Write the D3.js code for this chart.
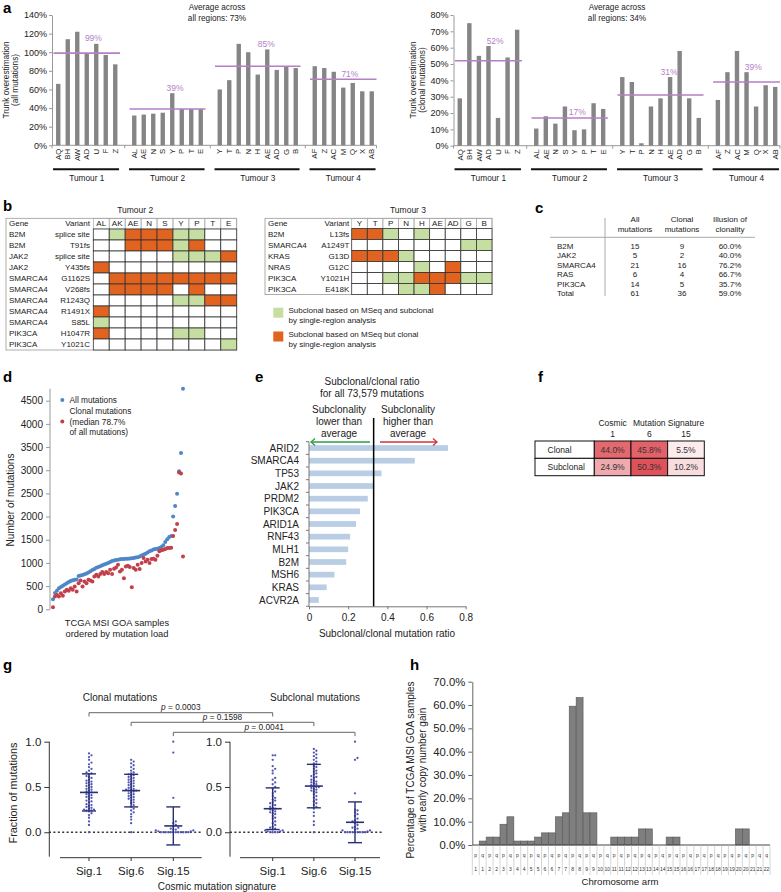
<!DOCTYPE html>
<html><head><meta charset="utf-8">
<script src="https://cdn.jsdelivr.net/npm/d3@7/dist/d3.min.js"></script>
<style>html,body{margin:0;padding:0;background:#fff}svg{display:block}</style>
</head><body>
<svg id="fig" width="781" height="892" xmlns="http://www.w3.org/2000/svg"></svg>
<script>
// ================= DATA =================
// panel a
const tumours = ["Tumour 1","Tumour 2","Tumour 3","Tumour 4"];
const regionsA = [
  ["AQ","BH","AW","AD","U","F","Z"],
  ["AL","AE","N","S","Y","P","T","E"],
  ["Y","T","P","N","H","AE","AD","G","B"],
  ["AF","Z","AC","M","Q","X","AB"]
];
const trunkAll = [[66,114,122,99,109,97,87],[32,33,34,35,56,39,39,39],[60,70,109,100,76,103,81,85,83],[85,83,79,62,67,58,58]];
const trunkAllMean = [99,39,85,71];
const trunkClonal = [[29,75,55,61,17,54,71],[10.5,18,13.5,24,9.5,10,26,22.5],[42,39,1.5,24,29,42,58,29,17],[28,45,58,45,24,37,36]];
const trunkClonalMean = [52,17,31,39];
const avgAllText = "73%";
const avgClonalText = "34%";

// panel b
const t2Regions = ["AL","AK","AE","N","S","Y","P","T","E"];
const t2Genes = ["B2M","B2M","JAK2","JAK2","SMARCA4","SMARCA4","SMARCA4","SMARCA4","SMARCA4","PIK3CA","PIK3CA"];
const t2Variants = ["splice site","T91fs","splice site","Y435fs","G1162S","V268fs","R1243Q","R1491X","S85L","H1047R","Y1021C"];
const t2Status = ["-GOOOGG--","--OOOGO--","-----GGGO","O--------","-OOOOOOOO","-OOOO-O--","-----GGOO","O--------","G--------","O----GG--","--------G"];
const t3Regions = ["Y","T","P","N","H","AE","AD","G","B"];
const t3Genes = ["B2M","SMARCA4","KRAS","NRAS","PIK3CA","PIK3CA"];
const t3Variants = ["L13fs","A1249T","G13D","G12C","Y1021H","E418K"];
const t3Status = ["OOG-G----","-------GG","OOOG-----","----G-O--","--GGOOOGG","---GGO---"];
const legendB = [["Subclonal based on MSeq and subclonal","by single-region analysis"],["Subclonal based on MSeq but clonal","by single-region analysis"]];

// panel c
const cGenes = ["B2M","JAK2","SMARCA4","RAS","PIK3CA","Total"];
const cAll = [15,5,21,6,14,61];
const cClonal = [9,2,16,4,5,36];
const cIllusion = ["60.0%","40.0%","76.2%","66.7%","35.7%","59.0%"];

// panel d
const dAll = [217,350,400,455,480,510,535,560,590,610,625,635,645,720,730,740,755,770,795,820,850,870,895,910,930,950,965,980,1000,1020,1040,1055,1065,1070,1078,1083,1086,1090,1093,1098,1103,1108,1115,1122,1140,1160,1180,1200,1228,1250,1270,1290,1300,1308,1320,1345,1380,1450,1510,1560,1580,2000,2230,2490,2980,3370,4760];
const dClonal = [43,275,310,275,347,290,383,420,400,455,420,490,383,563,621,490,600,563,636,621,600,708,744,708,759,802,759,802,780,853,759,874,903,961,816,853,672,925,940,910,477,889,853,961,867,997,1105,1033,1069,997,1084,1091,1069,1156,1250,1272,1286,1300,1322,1322,1330,1580,1710,1840,2950,2930,1140];

// panel e
const eGenes = ["ARID2","SMARCA4","TP53","JAK2","PRDM2","PIK3CA","ARID1A","RNF43","MLH1","B2M","MSH6","KRAS","ACVR2A"];
const eRatio = [0.71,0.54,0.37,0.33,0.30,0.26,0.24,0.21,0.20,0.19,0.13,0.09,0.05];
const eAverage = 0.33;

// panel f
const fRows = ["Clonal","Subclonal"];
const fHead1 = ["Cosmic","Mutation","Signature"];
const fHead2 = ["1","6","15"];
const fClonal = [44.0,45.8,5.5];
const fSubclonal = [24.9,50.3,10.2];

// panel g
const gSigs = ["Sig.1","Sig.6","Sig.15"];
const clonalSig1 = [0.87,0.85,0.83,0.80,0.77,0.75,0.72,0.70,0.68,0.66,0.65,0.64,0.62,0.61,0.60,0.58,0.57,0.56,0.55,0.54,0.53,0.52,0.51,0.50,0.49,0.48,0.47,0.46,0.45,0.44,0.43,0.42,0.41,0.40,0.39,0.38,0.37,0.35,0.34,0.33,0.31,0.30,0.29,0.28,0.27,0.26,0.25,0.25,0.24,0.24,0.23,0.21,0.19,0.16,0.12,0.08,0.0];
const clonalSig6 = [0.80,0.78,0.76,0.74,0.72,0.70,0.68,0.66,0.65,0.64,0.63,0.62,0.61,0.60,0.59,0.58,0.57,0.56,0.55,0.54,0.53,0.52,0.51,0.50,0.49,0.48,0.47,0.47,0.46,0.46,0.45,0.44,0.43,0.42,0.41,0.40,0.39,0.38,0.37,0.36,0.35,0.33,0.32,0.30,0.28,0.26,0.24,0.22,0.20,0.17,0.14,0.10,0.0];
const clonalSig15 = [1.0,0.88,0.38,0.12,0.10,0.08,0.06,0.05,0.04,0.03,0.03,0.02,0.02,0.01,0.01,0,0,0,0,0,0,0,0,0,0,0,0];
const subSig1 = [0.85,0.85,0.80,0.73,0.70,0.68,0.65,0.60,0.58,0.55,0.53,0.50,0.48,0.45,0.43,0.40,0.38,0.36,0.35,0.33,0.32,0.30,0.30,0.28,0.27,0.26,0.25,0.24,0.23,0.22,0.21,0.20,0.18,0.16,0.15,0.12,0.10,0.08,0.06,0.05,0.04,0.03,0.02,0.02,0.01,0.01,0,0,0,0];
const subSig6 = [0.92,0.90,0.88,0.86,0.84,0.82,0.80,0.78,0.76,0.75,0.73,0.72,0.70,0.68,0.67,0.65,0.64,0.62,0.61,0.60,0.58,0.57,0.56,0.55,0.54,0.53,0.52,0.51,0.50,0.50,0.49,0.48,0.47,0.46,0.45,0.44,0.42,0.40,0.38,0.36,0.34,0.32,0.30,0.28,0.26,0.22,0.18,0.12,0.08,0.0];
const subSig15 = [1.0,0.82,0.80,0.43,0.25,0.24,0.22,0.20,0.18,0.15,0.13,0.12,0.11,0.10,0.08,0.06,0.05,0.04,0.03,0.02,0.02,0.01,0,0,0,0,0,0,0,0,0];
const clonalMean = [0.44,0.46,0.07];
const clonalSD = [0.205,0.18,0.21];
const subMean = [0.26,0.51,0.11];
const subSD = [0.23,0.24,0.225];
const pValues = ["0.0003","0.1598","0.0041"];

// panel h
const hArm = ["p","q","p","q","p","q","p","q","p","q","p","q","p","q","p","q","p","q","p","q","p","q","p","q","p","q","p","q","p","q","p","q","p","q","p","q","p","q","p","q","p","q","q"];
const hChrom = ["1","1","2","2","3","3","4","4","5","5","6","6","7","7","8","8","9","9","10","10","11","11","12","12","13","13","14","14","15","15","16","16","17","17","18","18","19","19","20","20","21","21","22"];
const hGain = [0,1.7,3.4,3.4,8.9,12.1,1.7,1.7,1.7,3.4,5.2,5.2,12.1,13.8,59.5,63.2,13.8,13.8,0,0,3.4,3.4,3.4,3.4,6.9,6.9,0,0,3.4,3.4,0,0,0,0,0,0,0,0,6.9,6.9,0,0,0];

// ================= DRAWING =================
const F = '"Liberation Sans", Arial, Helvetica, sans-serif';
const svg = d3.select("#fig").attr("font-family", F);
svg.append("rect").attr("width",781).attr("height",892).attr("fill","#fff");

function text(g, x, y, s, size, anchor, fill, extra) {
  const t = g.append("text").attr("x", x).attr("y", y).attr("font-size", size)
    .attr("text-anchor", anchor || "start").attr("fill", fill || "#222").text(s);
  if (extra) Object.entries(extra).forEach(([k, v]) => t.attr(k, v));
  return t;
}
function vtext(g, x, y, s, size) {
  return g.append("text").attr("transform", `translate(${x},${y}) rotate(-90)`)
    .attr("text-anchor", "middle").attr("font-size", size).attr("fill", "#222").text(s);
}
function styleAxis(sel, size, col) {
  sel.attr("font-family", F).attr("font-size", size);
  sel.selectAll("text").attr("fill", "#222");
  sel.selectAll("line,path").attr("stroke", col);
}
const letters = [["a",3,13],["b",3,211],["c",535,213],["d",3,382],["e",255,382],["f",538,382],["g",3,670],["h",410,670]];
letters.forEach(([l, x, y]) => text(svg, x, y, l, 15, "start", "#000", {"font-weight": "bold"}));

// ---------- panel a ----------
function drawTrunk(o) {
  const g = svg.append("g");
  const slots = [];
  tumours.forEach((t, gi) => {
    regionsA[gi].forEach((r, ri) => slots.push(gi + "_" + ri));
    if (gi < tumours.length - 1) slots.push("gap" + gi);
  });
  const x = d3.scaleBand().domain(slots).range(o.xr).paddingInner(0.54).paddingOuter(0.27);
  const y = d3.scaleLinear().domain([0, o.max]).range(o.yr);
  const cx = k => x(k) + x.bandwidth() / 2;
  const st = x.step();
  const ax0 = o.xr[0] - 1.5;
  const yA = g.append("g").attr("transform", `translate(${ax0},0)`)
    .call(d3.axisLeft(y).tickValues(d3.range(0, o.max + 0.01, o.step)).tickFormat(d => d + "%").tickSize(3).tickSizeOuter(0).tickPadding(2));
  styleAxis(yA, 9, "#999");
  g.append("line").attr("x1", ax0).attr("x2", o.xr[1]).attr("y1", y(0)).attr("y2", y(0)).attr("stroke", "#999");
  const tickXs = [ax0, ...tumours.slice(0, -1).map((t, gi) => cx("gap" + gi)), o.xr[1]];
  g.selectAll(null).data(tickXs).enter().append("line")
    .attr("x1", d => d).attr("x2", d => d).attr("y1", y(0)).attr("y2", y(0) + 3).attr("stroke", "#999");
  tumours.forEach((t, gi) => {
    const vals = o.values[gi];
    const keys = vals.map((v, i) => gi + "_" + i);
    g.selectAll(null).data(vals).enter().append("rect")
      .attr("x", (d, i) => x(keys[i])).attr("width", x.bandwidth())
      .attr("y", d => y(d)).attr("height", d => y(0) - y(d)).attr("fill", "#858585");
    regionsA[gi].forEach((r, i) => {
      g.append("text").attr("transform", `translate(${cx(keys[i])},${y(0) + 3.5}) rotate(-90)`)
        .attr("dy", "0.35em").attr("text-anchor", "end").attr("font-size", 7.8).attr("fill", "#222").text(r);
    });
    const first = cx(keys[0]), last = cx(keys[keys.length - 1]);
    g.append("line").attr("x1", first - st * 0.55).attr("x2", last + st * 0.4)
      .attr("y1", o.underY).attr("y2", o.underY).attr("stroke", "#111").attr("stroke-width", 2);
    text(g, (first + last) / 2, o.underY + 12, t, 8.3, "middle");
    const m = o.means[gi];
    const lx0 = first - st / 2, lx1 = last + st / 2;
    g.append("line").attr("x1", lx0).attr("x2", lx1).attr("y1", y(m)).attr("y2", y(m))
      .attr("stroke", "#b57fc6").attr("stroke-width", 1.6);
    const lx = lx0 + (lx1 - lx0) * 0.6;
    let top = m;
    vals.forEach((v, i) => { if (Math.abs(cx(keys[i]) - lx) < 8 + x.bandwidth() / 2 && v > top) top = v; });
    text(g, lx, y(top) - 2.5, m + "%", 8.5, "middle", "#b57fc6");
  });
  text(g, o.titleX, 10, "Average across", 8.2, "middle");
  text(g, o.titleX, 21, "all regions: " + o.avg, 8.2, "middle");
  g.append("text").attr("transform", `translate(${o.ylx[0]},${o.ylc}) rotate(-90)`).attr("text-anchor", "middle").attr("font-size", 8.3).attr("fill", "#222").text("Trunk overestimation");
  g.append("text").attr("transform", `translate(${o.ylx[1]},${o.ylc}) rotate(-90)`).attr("text-anchor", "middle").attr("font-size", 8.3).attr("fill", "#222").text(o.ysub);
}
drawTrunk({xr: [53.5, 376.5], yr: [145.3, 15], max: 140, step: 20, values: trunkAll, means: trunkAllMean, underY: 169.3, titleX: 217, avg: avgAllText, ylx: [8.5, 17.5], ylc: 80, ysub: "(all mutations)"});
drawTrunk({xr: [455, 780], yr: [145.7, 15], max: 80, step: 10, values: trunkClonal, means: trunkClonalMean, underY: 169.3, titleX: 617, avg: avgClonalText, ylx: [415.5, 424.5], ylc: 80, ysub: "(clonal mutations)"});

// ---------- panel b ----------
const cellCol = {G: "#c6dea2", O: "#e2631f", "-": "#ffffff"};
function drawMut(o) {
  const g = svg.append("g");
  const x = d3.scaleBand().domain(o.regions).range([o.gx0, o.gx1]);
  const y = d3.scaleBand().domain(d3.range(o.genes.length)).range([o.hy1, o.bottom]);
  text(g, o.x0 + (o.gx1 - o.x0) * o.tf, 213, o.title, 8.5, "middle");
  g.append("rect").attr("x", o.x0).attr("y", o.top).attr("width", o.gx1 - o.x0).attr("height", o.bottom - o.top)
    .attr("fill", "none").attr("stroke", "#999").attr("stroke-width", 0.8);
  o.regions.forEach(r => {
    g.append("rect").attr("x", x(r)).attr("y", o.top).attr("width", x.bandwidth()).attr("height", o.hy1 - o.top)
      .attr("fill", "none").attr("stroke", "#aaa").attr("stroke-width", 0.7);
    text(g, x(r) + x.bandwidth() / 2, o.hy1 - 2.6, r, 8, "middle");
  });
  text(g, o.x0 + 3, o.hy1 - 2.6, "Gene", 8);
  text(g, o.vx, o.hy1 - 2.6, "Variant", 8, "end");
  o.genes.forEach((gn, i) => {
    text(g, o.x0 + 3, y(i) + 8.3, gn, 8);
    text(g, o.vx, y(i) + 8.3, o.variants[i], 8, "end");
    o.regions.forEach((r, j) => {
      g.append("rect").attr("x", x(r)).attr("y", y(i)).attr("width", x.bandwidth()).attr("height", y.bandwidth())
        .attr("fill", cellCol[o.status[i][j]]).attr("stroke", "#333").attr("stroke-width", 0.8);
    });
  });
}
drawMut({x0: 6, vx: 90, gx0: 93.3, gx1: 236.7, top: 218.3, hy1: 229, bottom: 350, regions: t2Regions, genes: t2Genes, variants: t2Variants, status: t2Status, title: "Tumour 2", tf: 0.56});
drawMut({x0: 265, vx: 349.3, gx0: 351.7, gx1: 492, top: 218.3, hy1: 228.6, bottom: 294.6, regions: t3Regions, genes: t3Genes, variants: t3Variants, status: t3Status, title: "Tumour 3", tf: 0.63});
{
  const g = svg.append("g");
  const ly = d3.scalePoint().domain([0, 1]).range([307.7, 331.5]);
  legendB.forEach((lines, i) => {
    g.append("rect").attr("x", 273.3).attr("y", ly(i)).attr("width", 10).attr("height", 10).attr("fill", i === 0 ? cellCol.G : cellCol.O);
    text(g, 288.5, ly(i) + 5.3, lines[0], 8);
    text(g, 288.5, ly(i) + 15.3, lines[1], 8);
  });
}

// ---------- panel c ----------
{
  const g = svg.append("g");
  const cols = [635, 682, 730];
  const heads = [["All", "mutations"], ["Clonal", "mutations"], ["Illusion of", "clonality"]];
  heads.forEach((h, i) => { text(g, cols[i], 222, h[0], 8, "middle"); text(g, cols[i], 231.5, h[1], 8, "middle"); });
  g.append("line").attr("x1", 550).attr("x2", 755).attr("y1", 237.3).attr("y2", 237.3).attr("stroke", "#aaa");
  g.append("line").attr("x1", 605).attr("x2", 605).attr("y1", 218).attr("y2", 296).attr("stroke", "#aaa");
  const ry = d3.scalePoint().domain(d3.range(cGenes.length)).range([248.7, 296.2]);
  cGenes.forEach((gn, i) => {
    text(g, 557, ry(i), gn, 8);
    text(g, cols[0], ry(i), cAll[i], 8, "middle");
    text(g, cols[1], ry(i), cClonal[i], 8, "middle");
    text(g, cols[2], ry(i), cIllusion[i], 8, "middle");
  });
}

// ---------- panel d ----------
{
  const g = svg.append("g");
  const x = d3.scaleLinear().domain([0, dAll.length - 1]).range([53, 183]);
  const y = d3.scaleLinear().domain([0, 4500]).range([609.3, 400.7]);
  const ax = g.append("g").attr("transform", "translate(50,0)")
    .call(d3.axisLeft(y).tickValues(d3.range(0, 4501, 500)).tickFormat(d3.format("d")).tickSize(4).tickPadding(3));
  ax.select(".domain").remove();
  styleAxis(ax, 10, "#999");
  g.append("line").attr("x1", 50).attr("x2", 50).attr("y1", y(0)).attr("y2", y(d3.max(dAll))).attr("stroke", "#999");
  g.selectAll(null).data(dAll).enter().append("circle").attr("cx", (d, i) => x(i)).attr("cy", d => y(d)).attr("r", 2).attr("fill", "#4e86c6");
  g.selectAll(null).data(dClonal).enter().append("circle").attr("cx", (d, i) => x(i)).attr("cy", d => y(d)).attr("r", 2).attr("fill", "#c2404a");
  g.append("circle").attr("cx", 62.3).attr("cy", 400).attr("r", 2).attr("fill", "#4e86c6");
  text(g, 69.5, 403, "All mutations", 8.3);
  text(g, 69.5, 414, "Clonal mutations", 8.3);
  g.append("circle").attr("cx", 62.3).attr("cy", 421.5).attr("r", 2).attr("fill", "#c2404a");
  text(g, 69.5, 424.5, "(median 78.7%", 8.3);
  text(g, 69.5, 435, "of all mutations)", 8.3);
  vtext(g, 13.5, 500, "Number of mutations", 10);
  text(g, 117, 626, "TCGA MSI GOA samples", 9.3, "middle");
  text(g, 117, 637, "ordered by mutation load", 9.3, "middle");
}

// ---------- panel e ----------
{
  const g = svg.append("g");
  const x = d3.scaleLinear().domain([0, 0.8]).range([309, 465.7]);
  const y = d3.scaleBand().domain(eGenes).range([441.7, 606.3]).paddingInner(0.55).paddingOuter(0.275);
  g.selectAll(null).data(eRatio).enter().append("rect")
    .attr("x", x(0)).attr("y", (d, i) => y(eGenes[i])).attr("height", y.bandwidth())
    .attr("width", d => x(d) - x(0)).attr("fill", "#b9cde4");
  eGenes.forEach(gn => text(g, 299, y(gn) + y.bandwidth() / 2 + 3.6, gn, 10, "end"));
  const bounds = d3.range(eGenes.length + 1).map(i => y.range()[0] + i * y.step());
  g.append("line").attr("x1", x(0)).attr("x2", x(0)).attr("y1", bounds[0]).attr("y2", bounds[bounds.length - 1]).attr("stroke", "#777");
  g.selectAll(null).data(bounds).enter().append("line").attr("x1", x(0) - 3).attr("x2", x(0)).attr("y1", d => d).attr("y2", d => d).attr("stroke", "#777");
  const ax = g.append("g").attr("transform", `translate(0,${bounds[bounds.length - 1]})`)
    .call(d3.axisBottom(x).tickValues([0, 0.2, 0.4, 0.6, 0.8]).tickFormat(d => d === 0 ? "0" : d3.format(".1f")(d)).tickSize(3).tickSizeOuter(0).tickPadding(5));
  styleAxis(ax, 10, "#777");
  g.append("line").attr("x1", x(eAverage)).attr("x2", x(eAverage)).attr("y1", 418).attr("y2", bounds[bounds.length - 1]).attr("stroke", "#000").attr("stroke-width", 1.5);
  text(g, 372, 384.5, "Subclonal/clonal ratio", 10, "middle");
  text(g, 372, 396.5, "for all 73,579 mutations", 10, "middle");
  ["Subclonality", "lower than", "average"].forEach((s, i) => text(g, 339, 412.5 + i * 12, s, 10, "middle"));
  ["Subclonality", "higher than", "average"].forEach((s, i) => text(g, 408, 412.5 + i * 12, s, 10, "middle"));
  const ay = 442;
  g.append("line").attr("x1", 370).attr("x2", 311).attr("y1", ay).attr("y2", ay).attr("stroke", "#2f9b45").attr("stroke-width", 1.3);
  g.append("path").attr("d", `M315,${ay - 3.5} L311,${ay} L315,${ay + 3.5}`).attr("fill", "none").attr("stroke", "#2f9b45").attr("stroke-width", 1.3);
  g.append("line").attr("x1", 380).attr("x2", 437).attr("y1", ay).attr("y2", ay).attr("stroke", "#d0343a").attr("stroke-width", 1.3);
  g.append("path").attr("d", `M433,${ay - 3.5} L437,${ay} L433,${ay + 3.5}`).attr("fill", "none").attr("stroke", "#d0343a").attr("stroke-width", 1.3);
  text(g, 387, 637, "Subclonal/clonal mutation ratio", 10, "middle");
}

// ---------- panel f ----------
{
  const g = svg.append("g");
  const x = d3.scaleBand().domain([0, 1, 2]).range([594.3, 704.3]);
  const y = d3.scaleBand().domain(fRows).range([441, 475.7]);
  const col = d3.scaleLinear().domain([0, 50]).range(["#ffffff", "#e0535b"]);
  fHead1.forEach((h, i) => text(g, x(i) + x.bandwidth() / 2, 425.7, h, 8.5, "middle"));
  fHead2.forEach((h, i) => text(g, x(i) + x.bandwidth() / 2, 437.3, h, 8.5, "middle"));
  [fClonal, fSubclonal].forEach((vals, r) => {
    const rn = fRows[r];
    g.append("rect").attr("x", 535).attr("y", y(rn)).attr("width", x(0) - 535).attr("height", y.bandwidth()).attr("fill", "#fff").attr("stroke", "#111");
    text(g, 547.5, y(rn) + y.bandwidth() / 2 + 3, rn, 8.5);
    vals.forEach((v, i) => {
      g.append("rect").attr("x", x(i)).attr("y", y(rn)).attr("width", x.bandwidth()).attr("height", y.bandwidth()).attr("fill", col(v)).attr("stroke", "#111");
      text(g, x(i) + x.bandwidth() / 2, y(rn) + y.bandwidth() / 2 + 3, d3.format(".1f")(v) + "%", 8.5, "middle", "#333");
    });
  });
}

// ---------- panel g ----------
{
  const g = svg.append("g");
  const y = d3.scaleLinear().domain([-0.27, 1.0]).range([856.7, 741.7]);
  const panels = [
    {ax: 49.3, xr: [89, 173.3], xl: [60, 201.7], dot: [49, 201], title: "Clonal mutations", tx: 120, data: [clonalSig1, clonalSig6, clonalSig15], mean: clonalMean, sd: clonalSD},
    {ax: 230, xr: [272.7, 355], xl: [240, 380], dot: [230, 381.7], title: "Subclonal mutations", tx: 315, data: [subSig1, subSig6, subSig15], mean: subMean, sd: subSD}
  ];
  const navy = "#283072", dotc = "#5356b3";
  const xs = [];
  panels.forEach(p => {
    const x = d3.scalePoint().domain(gSigs).range(p.xr);
    xs.push(x);
    const ya = g.append("g").attr("transform", `translate(${p.ax},0)`)
      .call(d3.axisLeft(y).tickValues([0, 0.5, 1.0]).tickFormat(d3.format(".1f")).tickSize(5).tickPadding(3));
    ya.select(".domain").remove();
    styleAxis(ya, 11.5, "#333");
    g.append("line").attr("x1", p.ax).attr("x2", p.ax).attr("y1", y(1.0)).attr("y2", y(-0.27)).attr("stroke", "#333");
    g.append("line").attr("x1", p.xl[0]).attr("x2", p.xl[1]).attr("y1", 857.7).attr("y2", 857.7).attr("stroke", "#333");
    gSigs.forEach(s => {
      g.append("line").attr("x1", x(s)).attr("x2", x(s)).attr("y1", 857.7).attr("y2", 861).attr("stroke", "#333");
      text(g, x(s), 875, s, 11.5, "middle");
    });
    g.append("line").attr("x1", p.dot[0]).attr("x2", p.dot[1]).attr("y1", y(0)).attr("y2", y(0))
      .attr("stroke", "#333").attr("stroke-width", 1.6).attr("stroke-dasharray", "2,2.4");
    text(g, p.tx, 701, p.title, 10, "middle");
    p.data.forEach((vals, k) => {
      const cx = x(gSigs[k]);
      const placed = [];
      const s = 2.5;
      const pts = vals.slice().sort((a, b) => a - b).map(v => {
        const py = y(v);
        let off = 0;
        for (let j = 0; j < 400; j++) {
          const o = (j % 2 === 1 ? 1 : -1) * Math.ceil(j / 2) * s * 0.5;
          if (placed.every(q => (q.x - o) ** 2 + (q.y - py) ** 2 >= s * s)) { off = o; break; }
        }
        placed.push({x: off, y: py});
        return {x: cx + off, y: py};
      });
      g.selectAll(null).data(pts).enter().append("circle").attr("cx", d => d.x).attr("cy", d => d.y).attr("r", 1.15).attr("fill", dotc);
      const m = p.mean[k], sd = p.sd[k];
      g.append("line").attr("x1", cx).attr("x2", cx).attr("y1", y(m - sd)).attr("y2", y(m + sd)).attr("stroke", navy).attr("stroke-width", 1.4);
      [m - sd, m + sd].forEach(v => g.append("line").attr("x1", cx - 7).attr("x2", cx + 7).attr("y1", y(v)).attr("y2", y(v)).attr("stroke", navy).attr("stroke-width", 1.4));
      g.append("line").attr("x1", cx - 9).attr("x2", cx + 9).attr("y1", y(m)).attr("y2", y(m)).attr("stroke", navy).attr("stroke-width", 1.6);
    });
  });
  const brY = [712.7, 722.3, 732.3];
  pValues.forEach((pv, k) => {
    const xa = xs[0](gSigs[k]), xb = xs[1](gSigs[k]);
    g.append("path").attr("d", `M${xa},${brY[k] + 3.8} V${brY[k]} H${xb} V${brY[k] + 3.8}`).attr("fill", "none").attr("stroke", "#666").attr("stroke-width", 1);
    const t = g.append("text").attr("x", (xa + xb) / 2).attr("y", brY[k] - 2.4).attr("text-anchor", "middle").attr("font-size", 8.3).attr("fill", "#222");
    t.append("tspan").attr("font-style", "italic").text("p");
    t.append("tspan").text(" = " + pv);
  });
  vtext(g, 16.5, 793, "Fraction of mutations", 10.8);
  text(g, 217, 890, "Cosmic mutation signature", 10, "middle");
}

// ---------- panel h ----------
{
  const g = svg.append("g");
  const keys = hArm.map((a, i) => hChrom[i] + a);
  const x = d3.scaleBand().domain(keys).range([472.3, 770]);
  const y = d3.scaleLinear().domain([0, 70]).range([845, 681.7]);
  g.selectAll(null).data(hGain).enter().append("rect")
    .attr("x", (d, i) => x(keys[i])).attr("width", x.bandwidth())
    .attr("y", d => y(d)).attr("height", d => y(0) - y(d))
    .attr("fill", "#7f7f7f").attr("stroke", "#555").attr("stroke-width", 0.6);
  const ya = g.append("g").attr("transform", "translate(472.3,0)")
    .call(d3.axisLeft(y).tickValues(d3.range(0, 70.1, 10)).tickFormat(d => d3.format(".1f")(d) + "%").tickSize(4).tickPadding(3).tickSizeOuter(0));
  styleAxis(ya, 11.3, "#666");
  g.append("line").attr("x1", 472.3).attr("x2", 770).attr("y1", y(0)).attr("y2", y(0)).attr("stroke", "#444");
  const bnds = d3.range(keys.length + 1).map(i => 472.3 + i * x.step());
  g.selectAll(null).data(bnds).enter().append("line").attr("x1", d => d).attr("x2", d => d).attr("y1", y(0)).attr("y2", 875).attr("stroke", "#bbb").attr("stroke-width", 0.6);
  keys.forEach((k, i) => {
    text(g, x(k) + x.bandwidth() / 2, 857, hArm[i], 5, "middle", "#333");
    text(g, x(k) + x.bandwidth() / 2, 871, hChrom[i], 5, "middle", "#333");
  });
  text(g, 620, 884.5, "Chromosome arm", 9.6, "middle");
  vtext(g, 414, 770, "Percentage of TCGA MSI GOA samples", 10);
  vtext(g, 426, 770, "with early copy number gain", 10);
}
</script>
</body></html>
